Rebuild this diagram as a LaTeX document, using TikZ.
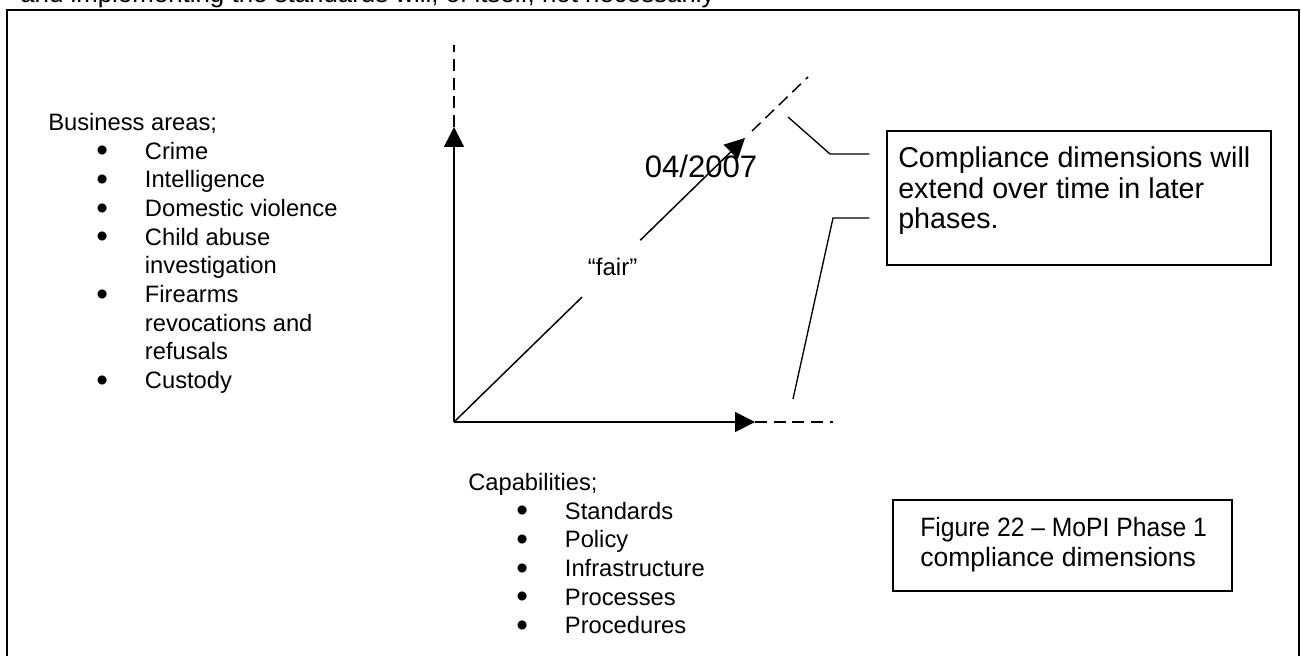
\documentclass[tikz,border=0pt]{standalone}
\usepackage{graphicx}
\usepackage{fontspec}
\setmainfont{Liberation Sans}
\usetikzlibrary{arrows.meta,calc}

% bullet and hanging indent for the two lists
\newcommand{\lbul}{\makebox[72.5pt][l]{\hspace{36pt}\raisebox{-0.11em}{\scalebox{1.4}{\textbullet}}}}
\newcommand{\lind}{\hspace*{72.5pt}}

\tikzset{
  frameline/.style={line width=1.5pt},
  axisline/.style={line width=1.1pt},
  axisarrow/.style={axisline,-{Triangle[length=15pt,width=15pt]}},
  extline/.style={line width=1.1pt,dash pattern=on 9pt off 5pt},
  callout/.style={line width=1pt},
  boxframe/.style={draw,line width=1.1pt,inner sep=0pt},
  listtext/.style={font=\fontsize{17.8pt}{21.5pt}\selectfont,align=left,inner sep=0pt},
  notetext/.style={font=\fontsize{21.5pt}{22.9pt}\selectfont,align=left,inner sep=0pt},
  captext/.style={font=\fontsize{19.9pt}{22.5pt}\selectfont,align=left,inner sep=0pt},
  datetext/.style={font=\fontsize{23.3pt}{26pt}\selectfont,inner sep=0pt},
  fairtext/.style={font=\fontsize{18pt}{21pt}\selectfont,inner sep=0pt}
}

\begin{document}
\begin{tikzpicture}[x=0.75pt,y=-0.75pt]
\useasboundingbox (0,0) rectangle (1301,656);

% running text of the page above the frame
\begin{scope}
  \clip (0,0) rectangle (1301,9);
  \node[anchor=base west,inner sep=0pt,font=\fontsize{19.4pt}{22pt}\selectfont] (pagetext) at (20,3)
    {and implementing the standards will, of itself, not necessarily};
\end{scope}

% frame
\draw[frameline] (7,656) -- (7,10) -- (1299,10) -- (1299,656);

% business areas
\node[listtext,anchor=north west] (biz) at (48,113)
  {Business areas;\\
   \lbul Crime\\
   \lbul Intelligence\\
   \lbul Domestic violence\\
   \lbul Child abuse\\
   \lind investigation\\
   \lbul Firearms\\
   \lind revocations and\\
   \lind refusals\\
   \lbul Custody};

% capabilities
\node[listtext,anchor=north west] (cap) at (468,473)
  {Capabilities;\\
   \lbul Standards\\
   \lbul Policy\\
   \lbul Infrastructure\\
   \lbul Processes\\
   \lbul Procedures};

% axes
\coordinate (O) at (454,422);
\coordinate (ytip) at (454,127);
\coordinate (yend) at (454,45);
\coordinate (xtip) at (755,422);
\coordinate (xend) at (833,422);
\coordinate (dtip) at (745,138);
\coordinate (dext) at (752,131);
\coordinate (dend) at (808,77);

\draw[axisarrow] (O) -- (ytip);
\draw[extline] (ytip) -- (yend);
\draw[axisarrow] (O) -- (xtip);
\draw[extline] (xtip) -- (xend);

% diagonal, broken by its label
\coordinate (gA) at ($(O)!0.44!(dtip)$);
\coordinate (gB) at ($(O)!0.64!(dtip)$);
\node[fairtext] (fair) at ($(O)!0.545!(dtip)$) {“fair”};
\draw[axisline] (O) -- (gA);
\draw[axisarrow] (gB) -- (dtip);
\draw[extline] (dext) -- (dend);

\node[datetext] (date) at (701,166) {04/2007};

% note box with its two callout lines
\node[boxframe,minimum width=288pt,minimum height=100.5pt] (cbox) at (1079,198) {};
\node[notetext,anchor=north west] (ctext) at (898,146.5)
  {Compliance dimensions will\\ extend over time in later\\ phases.};

\coordinate (u1) at (788,117);
\coordinate (u2) at (830,154);
\coordinate (u3) at ($(cbox.west)+(-17,-44)$);
\coordinate (l1) at (793,399);
\coordinate (l2) at (833,218);
\coordinate (l3) at ($(cbox.west)+(-17,20)$);
\draw[callout] (u1) -- (u2) -- (u3);
\draw[callout] (l1) -- (l2) -- (l3);

% caption box
\node[boxframe,minimum width=254.25pt,minimum height=68.25pt] (fbox) at (1062.5,545.5) {};
\node[captext,anchor=north west] (ftext) at (920,517.5)
  {\scalebox{0.93}[1]{Figure 22 – MoPI Phase 1}\\ compliance dimensions};
\end{tikzpicture}
\end{document}
